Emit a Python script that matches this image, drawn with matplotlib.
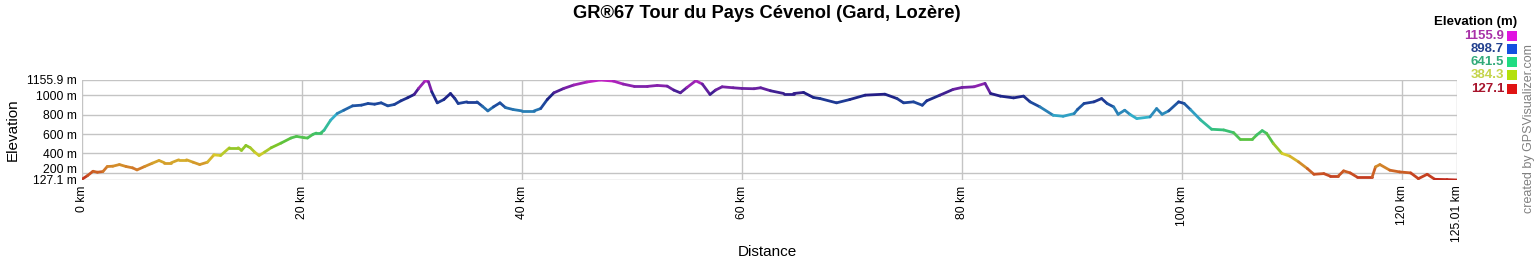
"""
Elevation profile, GR67 Tour du Pays Cevenol, redrawn from a GPSVisualizer chart.
Writes out.png (1537x260).
"""

import matplotlib
matplotlib.use("Agg")
import matplotlib.pyplot as plt
import matplotlib.transforms as mtransforms
import numpy as np
from matplotlib.collections import LineCollection
from matplotlib.colors import LinearSegmentedColormap, Normalize

plt.rcParams["font.family"] = ["Liberation Sans", "DejaVu Sans"]

# ---------------------------------------------------------------------------
# Data
# ---------------------------------------------------------------------------
distance_km = [
    0.0, 0.5, 1.0, 1.4, 1.9, 2.3, 2.8, 3.4, 4.0, 4.6, 5.0, 5.7, 6.4, 7.0, 7.5,
    8.1, 8.8, 9.5, 10.1, 10.7, 11.4, 12.0, 12.6, 13.4, 14.2, 14.5, 14.9, 15.3,
    15.7, 16.1, 16.6, 17.2, 18.1, 19.0, 19.5, 20.2, 20.5, 21.0, 21.3, 21.7,
    22.0, 22.6, 23.2, 23.8, 24.6, 25.4, 26.0, 26.6, 27.2, 27.8, 28.4, 29.0,
    29.6, 30.2, 30.6, 31.2, 31.5, 31.8, 32.3, 32.9, 33.5, 33.9, 34.2, 35.0,
    35.9, 36.4, 36.9, 37.4, 38.0, 38.5, 39.2, 40.0, 41.1, 41.7, 42.3, 42.9,
    43.8, 44.7, 45.9, 47.1, 48.3, 49.2, 50.2, 51.4, 52.3, 53.2, 53.8, 54.4,
    55.0, 55.8, 56.4, 57.1, 57.6, 58.2, 59.2, 60.0, 61.1, 61.7, 62.6, 63.8,
    64.7, 65.6, 66.5, 67.1, 68.6, 69.8, 71.2, 73.0, 74.1, 74.7, 75.6, 76.4,
    76.8, 78.0, 79.2, 80.0, 81.1, 82.1, 82.6, 83.5, 84.7, 85.6, 86.2, 87.1,
    88.3, 89.2, 90.2, 90.5, 91.1, 92.0, 92.7, 93.2, 93.8, 94.2, 94.8, 95.3,
    95.9, 97.1, 97.7, 98.2, 98.8, 99.7, 100.2, 100.8, 101.7, 102.7, 103.8,
    104.7, 105.3, 106.4, 106.8, 107.3, 107.7, 108.3, 109.1, 109.8, 110.6,
    111.4, 112.0, 112.9, 113.5, 114.2, 114.7, 115.3, 115.9, 117.3, 117.6,
    118.0, 118.9, 119.8, 120.8, 121.5, 122.3, 123.0, 124.1, 125.01,
]
elevation_m = [
    135, 172, 217, 207, 214, 266, 269, 286, 266, 252, 231, 266, 300, 328, 304,
    304, 335, 335, 310, 286, 310, 386, 379, 459, 459, 431, 483, 459,
    414, 379, 414, 459, 507, 559, 576, 562, 559, 597, 610, 610,
    638, 742, 811, 845, 890, 897, 914, 907, 921, 890, 904, 942,
    973, 1007, 1069, 1148, 1138, 1035, 921, 955, 1017, 965, 914, 931,
    931, 886, 838, 879, 921, 872, 852, 838, 838, 862, 955, 1024,
    1069, 1104, 1135, 1155.9, 1145, 1114, 1090, 1090, 1100, 1093, 1052, 1024,
    1079, 1148, 1114, 1007, 1052, 1086, 1076, 1069, 1066, 1076, 1045, 1017,
    1017, 1028, 976, 965, 921, 955, 1000, 1010, 965, 921, 931, 896,
    942, 1000, 1059, 1079, 1086, 1121, 1017, 990, 972, 990, 931, 879,
    793, 783, 810, 852, 914, 931, 965, 914, 879, 803, 845, 800,
    759, 776, 862, 803, 838, 931, 915, 849, 745, 649, 642,
    614, 545, 545, 590, 635, 607, 504, 400, 373, 314,
    245, 186, 193, 166, 166, 221, 200, 159, 159, 262,
    286, 228, 210, 200, 141, 186, 134, 131, 127.1,
]

y_ticks = [127.1, 200, 400, 600, 800, 1000, 1155.9]
y_tick_labels = ["127.1 m", "200 m", "400 m", "600 m", "800 m", "1000 m", "1155.9 m"]
x_ticks = [0, 20, 40, 60, 80, 100, 120, 125.01]
x_tick_labels = ["0 km", "20 km", "40 km", "60 km", "80 km", "100 km", "120 km", "125.01 km"]

legend_values = ["1155.9", "898.7", "641.5", "384.3", "127.1"]
legend_box_colours = ["#e014e0", "#1450e0", "#20dc82", "#b4e00c", "#e01414"]
legend_text_colours = ["#a832a8", "#22408e", "#32aa7a", "#c4d44a", "#a8142c"]

# elevation colour ramp used along the line (darker than the legend boxes)
ramp_levels = [127.1, 250, 384.3, 500, 641.5, 770, 898.7, 1000, 1155.9]
ramp_colours = ["#c0281c", "#d27e2a", "#d8cc2c", "#6cc428", "#34c07a",
                "#34b4cc", "#1e4ea0", "#1e1e84", "#c424c4"]

Y_MIN, Y_MAX = 127.1, 1155.9
X_MIN, X_MAX = 0, 125.01

GRID = "#c4c4c4"

# ---------------------------------------------------------------------------
# Figure
# ---------------------------------------------------------------------------
W, H = 1537, 260
fig = plt.figure(figsize=(W / 100, H / 100), dpi=100)
ax = fig.add_axes([82 / W, 1 - 180 / H, (1457 - 82) / W, 100 / H])

x = np.asarray(distance_km)
y = np.asarray(elevation_m)
pts = np.column_stack([x, y]).reshape(-1, 1, 2)
segs = np.concatenate([pts[:-1], pts[1:]], axis=1)
mid = (y[:-1] + y[1:]) / 2

stops = [(lv - Y_MIN) / (Y_MAX - Y_MIN) for lv in ramp_levels]
cmap = LinearSegmentedColormap.from_list("elev", list(zip(stops, ramp_colours)))
lc = LineCollection(segs, cmap=cmap, norm=Normalize(Y_MIN, Y_MAX),
                    linewidths=2.0, capstyle="round", joinstyle="round", zorder=3)
lc.set_array(mid)
ax.add_collection(lc)

ax.set_xlim(X_MIN, X_MAX)
ax.set_ylim(Y_MIN, Y_MAX)
ax.set_yticks(y_ticks)
ax.set_yticklabels(y_tick_labels, fontsize=8.7)
ax.set_xticks(x_ticks)
ax.set_xticklabels(x_tick_labels, fontsize=8.7, rotation=90, va="top")
ax.tick_params(length=0, pad=4)
ax.grid(True, color=GRID, linewidth=1.0)
ax.set_axisbelow(True)
for s in ax.spines.values():
    s.set_visible(False)

# "200 m" sits a few pixels higher so it clears "127.1 m"
lbl_200 = ax.get_yticklabels()[1]
lbl_200.set_transform(lbl_200.get_transform()
                      + mtransforms.ScaledTranslation(0, 4 / 100, fig.dpi_scale_trans))

fig.text(767 / W, 1 - 13 / H, "GR®67 Tour du Pays Cévenol (Gard, Lozère)",
         ha="center", va="center", fontsize=13.2, fontweight="bold")
fig.text(13 / W, 1 - 130 / H, "Elevation", rotation=90,
         ha="center", va="center", fontsize=11)
fig.text(767 / W, 1 - 252 / H, "Distance", ha="center", va="center", fontsize=11)
fig.text(1529 / W, 1 - 129 / H, "created by GPSVisualizer.com", rotation=90,
         ha="center", va="center", fontsize=9, color="#808080")

# legend
fig.text(1517 / W, 1 - 22.5 / H, "Elevation (m)", ha="right", va="center",
         fontsize=9.5, fontweight="bold")
row_y = [35.7, 49, 62, 75, 88.5]
for val, box, txt, ry in zip(legend_values, legend_box_colours, legend_text_colours, row_y):
    fig.text(1504 / W, 1 - ry / H, val, ha="right", va="center",
             fontsize=9.5, fontweight="bold", color=txt)
    fig.patches.append(plt.Rectangle((1507 / W, 1 - (ry + 5) / H), 10 / W, 10 / H,
                                     transform=fig.transFigure, facecolor=box,
                                     edgecolor="none", figure=fig))

fig.savefig("out.png", dpi=100)
plt.close(fig)
